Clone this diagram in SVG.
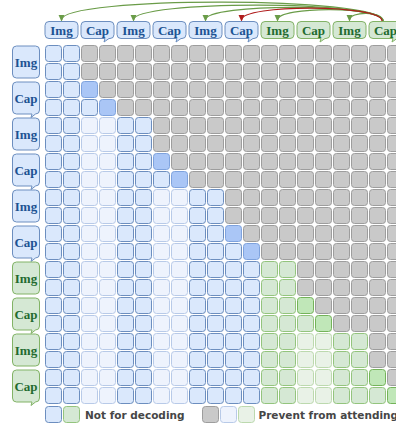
<svg xmlns="http://www.w3.org/2000/svg" xmlns:xlink="http://www.w3.org/1999/xlink" width="396" height="425" viewBox="0 0 396 425">
<style>
.g{fill:#c9c9c9;stroke:#9d9d9d}
.b{fill:#dae8fc;stroke:#6c8ebf}
.f{fill:#eef3fd;stroke:#b8cae8}
.h{fill:#aac6f6;stroke:#7ea2dd}
.n{fill:#d5e8d4;stroke:#93c47d}
.m{fill:#e9f2e7;stroke:#bcd9ae}
.k{fill:#c0e7b8;stroke:#74b35a}
.cells use{stroke-width:1}
.bb{fill:#dae8fc;stroke:#6c8ebf;stroke-width:1}
.gb{fill:#d5e8d4;stroke:#82b366;stroke-width:1}
.lb{font-family:"Liberation Serif","Times New Roman",serif;font-weight:bold;font-size:13px;text-anchor:middle}
.tb{fill:#1d5393}
.tg{fill:#236b30}
.leg{font-family:"DejaVu Sans",Verdana,sans-serif;font-weight:bold;font-size:10.5px;fill:#464646}
.arr{fill:none;stroke-width:1.2}
</style>
<defs>
<rect id="c" width="16" height="16" rx="3"/>
<rect id="imgH" width="33" height="17" rx="4"/>
<path id="capH" d="M4,0 H29 A4,4 0 0 1 33,4 V13 A4,4 0 0 1 29,17 H28 L23,20.5 L24,17 H4 A4,4 0 0 1 0,13 V4 A4,4 0 0 1 4,0 Z"/>
<rect id="imgL" width="27" height="32" rx="4"/>
<path id="capL" d="M4,0 H23 A4,4 0 0 1 27,4 V28 A4,4 0 0 1 23,32 H23 L18.5,35.5 L19.5,32 H4 A4,4 0 0 1 0,28 V4 A4,4 0 0 1 4,0 Z"/>
<marker id="ag" viewBox="0 0 8 8" refX="6" refY="4" markerWidth="7" markerHeight="7" markerUnits="userSpaceOnUse" orient="auto"><path d="M0,0.5 L8,4 L0,7.5 Z" fill="#6a9c48"/></marker>
<marker id="ar" viewBox="0 0 8 8" refX="6" refY="4" markerWidth="7" markerHeight="7" markerUnits="userSpaceOnUse" orient="auto"><path d="M0,0.5 L8,4 L0,7.5 Z" fill="#b01c1c"/></marker>
</defs>

<g id="connectors">
<path class="arr" stroke="#6a9c48" marker-end="url(#ag)" d="M383,21 C383,-4 61.5,-4 61.5,20"/>
<path class="arr" stroke="#6a9c48" marker-end="url(#ag)" d="M383,21 C383,0 133.5,0 133.5,20"/>
<path class="arr" stroke="#6a9c48" marker-end="url(#ag)" d="M383,21 C383,3 205.5,3 205.5,20"/>
<path class="arr" stroke="#6a9c48" marker-end="url(#ag)" d="M383,21 C383,6 277.5,6 277.5,20"/>
<path class="arr" stroke="#6a9c48" marker-end="url(#ag)" d="M383,21 C383,11 349.5,11 349.5,20"/>
<path class="arr" stroke="#b01c1c" marker-end="url(#ar)" d="M382,21 C382,4 241.5,4 241.5,20"/>
</g>

<g id="header">
<g id="h0"><use href="#imgH" x="45" y="21.5" class="bb"/><text class="lb tb" x="61.5" y="35">Img</text></g>
<g id="h1"><use href="#capH" x="81" y="21.5" class="bb"/><text class="lb tb" x="97.5" y="35">Cap</text></g>
<g id="h2"><use href="#imgH" x="117" y="21.5" class="bb"/><text class="lb tb" x="133.5" y="35">Img</text></g>
<g id="h3"><use href="#capH" x="153" y="21.5" class="bb"/><text class="lb tb" x="169.5" y="35">Cap</text></g>
<g id="h4"><use href="#imgH" x="189" y="21.5" class="bb"/><text class="lb tb" x="205.5" y="35">Img</text></g>
<g id="h5"><use href="#capH" x="225" y="21.5" class="bb"/><text class="lb tb" x="241.5" y="35">Cap</text></g>
<g id="h6"><use href="#imgH" x="261" y="21.5" class="gb"/><text class="lb tg" x="277.5" y="35">Img</text></g>
<g id="h7"><use href="#capH" x="297" y="21.5" class="gb"/><text class="lb tg" x="313.5" y="35">Cap</text></g>
<g id="h8"><use href="#imgH" x="333" y="21.5" class="gb"/><text class="lb tg" x="349.5" y="35">Img</text></g>
<g id="h9"><use href="#capH" x="369" y="21.5" class="gb"/><text class="lb tg" x="385.5" y="35">Cap</text></g>
</g>

<g id="rowlabels">
<g id="l0"><use href="#imgL" x="12.5" y="46" class="bb"/><text class="lb tb" x="26" y="66.5">Img</text></g>
<g id="l1"><use href="#capL" x="12.5" y="82" class="bb"/><text class="lb tb" x="26" y="102.5">Cap</text></g>
<g id="l2"><use href="#imgL" x="12.5" y="118" class="bb"/><text class="lb tb" x="26" y="138.5">Img</text></g>
<g id="l3"><use href="#capL" x="12.5" y="154" class="bb"/><text class="lb tb" x="26" y="174.5">Cap</text></g>
<g id="l4"><use href="#imgL" x="12.5" y="190" class="bb"/><text class="lb tb" x="26" y="210.5">Img</text></g>
<g id="l5"><use href="#capL" x="12.5" y="226" class="bb"/><text class="lb tb" x="26" y="246.5">Cap</text></g>
<g id="l6"><use href="#imgL" x="12.5" y="262" class="gb"/><text class="lb tg" x="26" y="282.5">Img</text></g>
<g id="l7"><use href="#capL" x="12.5" y="298" class="gb"/><text class="lb tg" x="26" y="318.5">Cap</text></g>
<g id="l8"><use href="#imgL" x="12.5" y="334" class="gb"/><text class="lb tg" x="26" y="354.5">Img</text></g>
<g id="l9"><use href="#capL" x="12.5" y="370" class="gb"/><text class="lb tg" x="26" y="390.5">Cap</text></g>
</g>

<g id="matrix" class="cells">
<g id="r0" transform="translate(0,45.5)"><use href="#c" x="45.5" class="b"/><use href="#c" x="63.5" class="b"/><use href="#c" x="81.5" class="g"/><use href="#c" x="99.5" class="g"/><use href="#c" x="117.5" class="g"/><use href="#c" x="135.5" class="g"/><use href="#c" x="153.5" class="g"/><use href="#c" x="171.5" class="g"/><use href="#c" x="189.5" class="g"/><use href="#c" x="207.5" class="g"/><use href="#c" x="225.5" class="g"/><use href="#c" x="243.5" class="g"/><use href="#c" x="261.5" class="g"/><use href="#c" x="279.5" class="g"/><use href="#c" x="297.5" class="g"/><use href="#c" x="315.5" class="g"/><use href="#c" x="333.5" class="g"/><use href="#c" x="351.5" class="g"/><use href="#c" x="369.5" class="g"/><use href="#c" x="387.5" class="g"/></g>
<g id="r1" transform="translate(0,63.5)"><use href="#c" x="45.5" class="b"/><use href="#c" x="63.5" class="b"/><use href="#c" x="81.5" class="g"/><use href="#c" x="99.5" class="g"/><use href="#c" x="117.5" class="g"/><use href="#c" x="135.5" class="g"/><use href="#c" x="153.5" class="g"/><use href="#c" x="171.5" class="g"/><use href="#c" x="189.5" class="g"/><use href="#c" x="207.5" class="g"/><use href="#c" x="225.5" class="g"/><use href="#c" x="243.5" class="g"/><use href="#c" x="261.5" class="g"/><use href="#c" x="279.5" class="g"/><use href="#c" x="297.5" class="g"/><use href="#c" x="315.5" class="g"/><use href="#c" x="333.5" class="g"/><use href="#c" x="351.5" class="g"/><use href="#c" x="369.5" class="g"/><use href="#c" x="387.5" class="g"/></g>
<g id="r2" transform="translate(0,81.5)"><use href="#c" x="45.5" class="b"/><use href="#c" x="63.5" class="b"/><use href="#c" x="81.5" class="h"/><use href="#c" x="99.5" class="g"/><use href="#c" x="117.5" class="g"/><use href="#c" x="135.5" class="g"/><use href="#c" x="153.5" class="g"/><use href="#c" x="171.5" class="g"/><use href="#c" x="189.5" class="g"/><use href="#c" x="207.5" class="g"/><use href="#c" x="225.5" class="g"/><use href="#c" x="243.5" class="g"/><use href="#c" x="261.5" class="g"/><use href="#c" x="279.5" class="g"/><use href="#c" x="297.5" class="g"/><use href="#c" x="315.5" class="g"/><use href="#c" x="333.5" class="g"/><use href="#c" x="351.5" class="g"/><use href="#c" x="369.5" class="g"/><use href="#c" x="387.5" class="g"/></g>
<g id="r3" transform="translate(0,99.5)"><use href="#c" x="45.5" class="b"/><use href="#c" x="63.5" class="b"/><use href="#c" x="81.5" class="b"/><use href="#c" x="99.5" class="h"/><use href="#c" x="117.5" class="g"/><use href="#c" x="135.5" class="g"/><use href="#c" x="153.5" class="g"/><use href="#c" x="171.5" class="g"/><use href="#c" x="189.5" class="g"/><use href="#c" x="207.5" class="g"/><use href="#c" x="225.5" class="g"/><use href="#c" x="243.5" class="g"/><use href="#c" x="261.5" class="g"/><use href="#c" x="279.5" class="g"/><use href="#c" x="297.5" class="g"/><use href="#c" x="315.5" class="g"/><use href="#c" x="333.5" class="g"/><use href="#c" x="351.5" class="g"/><use href="#c" x="369.5" class="g"/><use href="#c" x="387.5" class="g"/></g>
<g id="r4" transform="translate(0,117.5)"><use href="#c" x="45.5" class="b"/><use href="#c" x="63.5" class="b"/><use href="#c" x="81.5" class="f"/><use href="#c" x="99.5" class="f"/><use href="#c" x="117.5" class="b"/><use href="#c" x="135.5" class="b"/><use href="#c" x="153.5" class="g"/><use href="#c" x="171.5" class="g"/><use href="#c" x="189.5" class="g"/><use href="#c" x="207.5" class="g"/><use href="#c" x="225.5" class="g"/><use href="#c" x="243.5" class="g"/><use href="#c" x="261.5" class="g"/><use href="#c" x="279.5" class="g"/><use href="#c" x="297.5" class="g"/><use href="#c" x="315.5" class="g"/><use href="#c" x="333.5" class="g"/><use href="#c" x="351.5" class="g"/><use href="#c" x="369.5" class="g"/><use href="#c" x="387.5" class="g"/></g>
<g id="r5" transform="translate(0,135.5)"><use href="#c" x="45.5" class="b"/><use href="#c" x="63.5" class="b"/><use href="#c" x="81.5" class="f"/><use href="#c" x="99.5" class="f"/><use href="#c" x="117.5" class="b"/><use href="#c" x="135.5" class="b"/><use href="#c" x="153.5" class="g"/><use href="#c" x="171.5" class="g"/><use href="#c" x="189.5" class="g"/><use href="#c" x="207.5" class="g"/><use href="#c" x="225.5" class="g"/><use href="#c" x="243.5" class="g"/><use href="#c" x="261.5" class="g"/><use href="#c" x="279.5" class="g"/><use href="#c" x="297.5" class="g"/><use href="#c" x="315.5" class="g"/><use href="#c" x="333.5" class="g"/><use href="#c" x="351.5" class="g"/><use href="#c" x="369.5" class="g"/><use href="#c" x="387.5" class="g"/></g>
<g id="r6" transform="translate(0,153.5)"><use href="#c" x="45.5" class="b"/><use href="#c" x="63.5" class="b"/><use href="#c" x="81.5" class="f"/><use href="#c" x="99.5" class="f"/><use href="#c" x="117.5" class="b"/><use href="#c" x="135.5" class="b"/><use href="#c" x="153.5" class="h"/><use href="#c" x="171.5" class="g"/><use href="#c" x="189.5" class="g"/><use href="#c" x="207.5" class="g"/><use href="#c" x="225.5" class="g"/><use href="#c" x="243.5" class="g"/><use href="#c" x="261.5" class="g"/><use href="#c" x="279.5" class="g"/><use href="#c" x="297.5" class="g"/><use href="#c" x="315.5" class="g"/><use href="#c" x="333.5" class="g"/><use href="#c" x="351.5" class="g"/><use href="#c" x="369.5" class="g"/><use href="#c" x="387.5" class="g"/></g>
<g id="r7" transform="translate(0,171.5)"><use href="#c" x="45.5" class="b"/><use href="#c" x="63.5" class="b"/><use href="#c" x="81.5" class="f"/><use href="#c" x="99.5" class="f"/><use href="#c" x="117.5" class="b"/><use href="#c" x="135.5" class="b"/><use href="#c" x="153.5" class="b"/><use href="#c" x="171.5" class="h"/><use href="#c" x="189.5" class="g"/><use href="#c" x="207.5" class="g"/><use href="#c" x="225.5" class="g"/><use href="#c" x="243.5" class="g"/><use href="#c" x="261.5" class="g"/><use href="#c" x="279.5" class="g"/><use href="#c" x="297.5" class="g"/><use href="#c" x="315.5" class="g"/><use href="#c" x="333.5" class="g"/><use href="#c" x="351.5" class="g"/><use href="#c" x="369.5" class="g"/><use href="#c" x="387.5" class="g"/></g>
<g id="r8" transform="translate(0,189.5)"><use href="#c" x="45.5" class="b"/><use href="#c" x="63.5" class="b"/><use href="#c" x="81.5" class="f"/><use href="#c" x="99.5" class="f"/><use href="#c" x="117.5" class="b"/><use href="#c" x="135.5" class="b"/><use href="#c" x="153.5" class="f"/><use href="#c" x="171.5" class="f"/><use href="#c" x="189.5" class="b"/><use href="#c" x="207.5" class="b"/><use href="#c" x="225.5" class="g"/><use href="#c" x="243.5" class="g"/><use href="#c" x="261.5" class="g"/><use href="#c" x="279.5" class="g"/><use href="#c" x="297.5" class="g"/><use href="#c" x="315.5" class="g"/><use href="#c" x="333.5" class="g"/><use href="#c" x="351.5" class="g"/><use href="#c" x="369.5" class="g"/><use href="#c" x="387.5" class="g"/></g>
<g id="r9" transform="translate(0,207.5)"><use href="#c" x="45.5" class="b"/><use href="#c" x="63.5" class="b"/><use href="#c" x="81.5" class="f"/><use href="#c" x="99.5" class="f"/><use href="#c" x="117.5" class="b"/><use href="#c" x="135.5" class="b"/><use href="#c" x="153.5" class="f"/><use href="#c" x="171.5" class="f"/><use href="#c" x="189.5" class="b"/><use href="#c" x="207.5" class="b"/><use href="#c" x="225.5" class="g"/><use href="#c" x="243.5" class="g"/><use href="#c" x="261.5" class="g"/><use href="#c" x="279.5" class="g"/><use href="#c" x="297.5" class="g"/><use href="#c" x="315.5" class="g"/><use href="#c" x="333.5" class="g"/><use href="#c" x="351.5" class="g"/><use href="#c" x="369.5" class="g"/><use href="#c" x="387.5" class="g"/></g>
<g id="r10" transform="translate(0,225.5)"><use href="#c" x="45.5" class="b"/><use href="#c" x="63.5" class="b"/><use href="#c" x="81.5" class="f"/><use href="#c" x="99.5" class="f"/><use href="#c" x="117.5" class="b"/><use href="#c" x="135.5" class="b"/><use href="#c" x="153.5" class="f"/><use href="#c" x="171.5" class="f"/><use href="#c" x="189.5" class="b"/><use href="#c" x="207.5" class="b"/><use href="#c" x="225.5" class="h"/><use href="#c" x="243.5" class="g"/><use href="#c" x="261.5" class="g"/><use href="#c" x="279.5" class="g"/><use href="#c" x="297.5" class="g"/><use href="#c" x="315.5" class="g"/><use href="#c" x="333.5" class="g"/><use href="#c" x="351.5" class="g"/><use href="#c" x="369.5" class="g"/><use href="#c" x="387.5" class="g"/></g>
<g id="r11" transform="translate(0,243.5)"><use href="#c" x="45.5" class="b"/><use href="#c" x="63.5" class="b"/><use href="#c" x="81.5" class="f"/><use href="#c" x="99.5" class="f"/><use href="#c" x="117.5" class="b"/><use href="#c" x="135.5" class="b"/><use href="#c" x="153.5" class="f"/><use href="#c" x="171.5" class="f"/><use href="#c" x="189.5" class="b"/><use href="#c" x="207.5" class="b"/><use href="#c" x="225.5" class="b"/><use href="#c" x="243.5" class="h"/><use href="#c" x="261.5" class="g"/><use href="#c" x="279.5" class="g"/><use href="#c" x="297.5" class="g"/><use href="#c" x="315.5" class="g"/><use href="#c" x="333.5" class="g"/><use href="#c" x="351.5" class="g"/><use href="#c" x="369.5" class="g"/><use href="#c" x="387.5" class="g"/></g>
<g id="r12" transform="translate(0,261.5)"><use href="#c" x="45.5" class="b"/><use href="#c" x="63.5" class="b"/><use href="#c" x="81.5" class="f"/><use href="#c" x="99.5" class="f"/><use href="#c" x="117.5" class="b"/><use href="#c" x="135.5" class="b"/><use href="#c" x="153.5" class="f"/><use href="#c" x="171.5" class="f"/><use href="#c" x="189.5" class="b"/><use href="#c" x="207.5" class="b"/><use href="#c" x="225.5" class="b"/><use href="#c" x="243.5" class="b"/><use href="#c" x="261.5" class="n"/><use href="#c" x="279.5" class="n"/><use href="#c" x="297.5" class="g"/><use href="#c" x="315.5" class="g"/><use href="#c" x="333.5" class="g"/><use href="#c" x="351.5" class="g"/><use href="#c" x="369.5" class="g"/><use href="#c" x="387.5" class="g"/></g>
<g id="r13" transform="translate(0,279.5)"><use href="#c" x="45.5" class="b"/><use href="#c" x="63.5" class="b"/><use href="#c" x="81.5" class="f"/><use href="#c" x="99.5" class="f"/><use href="#c" x="117.5" class="b"/><use href="#c" x="135.5" class="b"/><use href="#c" x="153.5" class="f"/><use href="#c" x="171.5" class="f"/><use href="#c" x="189.5" class="b"/><use href="#c" x="207.5" class="b"/><use href="#c" x="225.5" class="b"/><use href="#c" x="243.5" class="b"/><use href="#c" x="261.5" class="n"/><use href="#c" x="279.5" class="n"/><use href="#c" x="297.5" class="g"/><use href="#c" x="315.5" class="g"/><use href="#c" x="333.5" class="g"/><use href="#c" x="351.5" class="g"/><use href="#c" x="369.5" class="g"/><use href="#c" x="387.5" class="g"/></g>
<g id="r14" transform="translate(0,297.5)"><use href="#c" x="45.5" class="b"/><use href="#c" x="63.5" class="b"/><use href="#c" x="81.5" class="f"/><use href="#c" x="99.5" class="f"/><use href="#c" x="117.5" class="b"/><use href="#c" x="135.5" class="b"/><use href="#c" x="153.5" class="f"/><use href="#c" x="171.5" class="f"/><use href="#c" x="189.5" class="b"/><use href="#c" x="207.5" class="b"/><use href="#c" x="225.5" class="b"/><use href="#c" x="243.5" class="b"/><use href="#c" x="261.5" class="n"/><use href="#c" x="279.5" class="n"/><use href="#c" x="297.5" class="k"/><use href="#c" x="315.5" class="g"/><use href="#c" x="333.5" class="g"/><use href="#c" x="351.5" class="g"/><use href="#c" x="369.5" class="g"/><use href="#c" x="387.5" class="g"/></g>
<g id="r15" transform="translate(0,315.5)"><use href="#c" x="45.5" class="b"/><use href="#c" x="63.5" class="b"/><use href="#c" x="81.5" class="f"/><use href="#c" x="99.5" class="f"/><use href="#c" x="117.5" class="b"/><use href="#c" x="135.5" class="b"/><use href="#c" x="153.5" class="f"/><use href="#c" x="171.5" class="f"/><use href="#c" x="189.5" class="b"/><use href="#c" x="207.5" class="b"/><use href="#c" x="225.5" class="b"/><use href="#c" x="243.5" class="b"/><use href="#c" x="261.5" class="n"/><use href="#c" x="279.5" class="n"/><use href="#c" x="297.5" class="n"/><use href="#c" x="315.5" class="k"/><use href="#c" x="333.5" class="g"/><use href="#c" x="351.5" class="g"/><use href="#c" x="369.5" class="g"/><use href="#c" x="387.5" class="g"/></g>
<g id="r16" transform="translate(0,333.5)"><use href="#c" x="45.5" class="b"/><use href="#c" x="63.5" class="b"/><use href="#c" x="81.5" class="f"/><use href="#c" x="99.5" class="f"/><use href="#c" x="117.5" class="b"/><use href="#c" x="135.5" class="b"/><use href="#c" x="153.5" class="f"/><use href="#c" x="171.5" class="f"/><use href="#c" x="189.5" class="b"/><use href="#c" x="207.5" class="b"/><use href="#c" x="225.5" class="b"/><use href="#c" x="243.5" class="b"/><use href="#c" x="261.5" class="n"/><use href="#c" x="279.5" class="n"/><use href="#c" x="297.5" class="m"/><use href="#c" x="315.5" class="m"/><use href="#c" x="333.5" class="n"/><use href="#c" x="351.5" class="n"/><use href="#c" x="369.5" class="g"/><use href="#c" x="387.5" class="g"/></g>
<g id="r17" transform="translate(0,351.5)"><use href="#c" x="45.5" class="b"/><use href="#c" x="63.5" class="b"/><use href="#c" x="81.5" class="f"/><use href="#c" x="99.5" class="f"/><use href="#c" x="117.5" class="b"/><use href="#c" x="135.5" class="b"/><use href="#c" x="153.5" class="f"/><use href="#c" x="171.5" class="f"/><use href="#c" x="189.5" class="b"/><use href="#c" x="207.5" class="b"/><use href="#c" x="225.5" class="b"/><use href="#c" x="243.5" class="b"/><use href="#c" x="261.5" class="n"/><use href="#c" x="279.5" class="n"/><use href="#c" x="297.5" class="m"/><use href="#c" x="315.5" class="m"/><use href="#c" x="333.5" class="n"/><use href="#c" x="351.5" class="n"/><use href="#c" x="369.5" class="g"/><use href="#c" x="387.5" class="g"/></g>
<g id="r18" transform="translate(0,369.5)"><use href="#c" x="45.5" class="b"/><use href="#c" x="63.5" class="b"/><use href="#c" x="81.5" class="f"/><use href="#c" x="99.5" class="f"/><use href="#c" x="117.5" class="b"/><use href="#c" x="135.5" class="b"/><use href="#c" x="153.5" class="f"/><use href="#c" x="171.5" class="f"/><use href="#c" x="189.5" class="b"/><use href="#c" x="207.5" class="b"/><use href="#c" x="225.5" class="b"/><use href="#c" x="243.5" class="b"/><use href="#c" x="261.5" class="n"/><use href="#c" x="279.5" class="n"/><use href="#c" x="297.5" class="m"/><use href="#c" x="315.5" class="m"/><use href="#c" x="333.5" class="n"/><use href="#c" x="351.5" class="n"/><use href="#c" x="369.5" class="k"/><use href="#c" x="387.5" class="g"/></g>
<g id="r19" transform="translate(0,387.5)"><use href="#c" x="45.5" class="b"/><use href="#c" x="63.5" class="b"/><use href="#c" x="81.5" class="f"/><use href="#c" x="99.5" class="f"/><use href="#c" x="117.5" class="b"/><use href="#c" x="135.5" class="b"/><use href="#c" x="153.5" class="f"/><use href="#c" x="171.5" class="f"/><use href="#c" x="189.5" class="b"/><use href="#c" x="207.5" class="b"/><use href="#c" x="225.5" class="b"/><use href="#c" x="243.5" class="b"/><use href="#c" x="261.5" class="n"/><use href="#c" x="279.5" class="n"/><use href="#c" x="297.5" class="m"/><use href="#c" x="315.5" class="m"/><use href="#c" x="333.5" class="n"/><use href="#c" x="351.5" class="n"/><use href="#c" x="369.5" class="n"/><use href="#c" x="387.5" class="k"/></g>
</g>

<g id="legend">
<g id="legend-decoding" class="cells"><use href="#c" x="45.5" y="406.5" class="b"/><use href="#c" x="63.5" y="406.5" class="n"/><text class="leg" x="85" y="418.5">Not for decoding</text></g>
<g id="legend-prevent" class="cells"><use href="#c" x="202.5" y="406.5" class="g"/><use href="#c" x="220.5" y="406.5" class="f"/><use href="#c" x="238.5" y="406.5" class="m"/><text class="leg" x="258.5" y="418.5">Prevent from attending</text></g>
</g>
</svg>
